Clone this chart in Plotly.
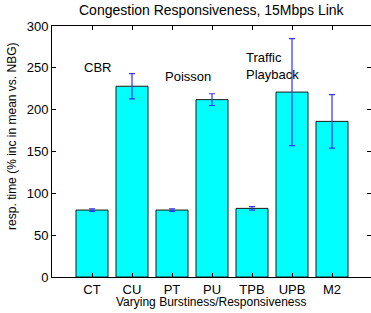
import plotly.graph_objects as go

categories = ["CT", "CU", "PT", "PU", "TPB", "UPB", "M2"]
means = [80, 228, 80, 212, 82, 221, 186]
errors = [1.5, 15, 1.5, 7, 2, 64, 32]
y_ticks = [0, 50, 100, 150, 200, 250, 300]
labels = ["CBR", "Poisson", "Traffic<br>Playback"]
label_x = [0.76, 2.78, 4.8]
label_y = [250, 240, 252]

xpos = list(range(1, len(categories) + 1))
font = "Liberation Sans, Arial, sans-serif"

fig = go.Figure()
fig.add_trace(go.Bar(
    x=xpos, y=means, width=0.8,
    marker=dict(color="#00FFFF", line=dict(color="#1a1a1a", width=1)),
    error_y=dict(type="data", array=errors, visible=True, color="#3333FF",
                 thickness=1.2, width=3),
))
for t, x, y in zip(labels, label_x, label_y):
    fig.add_annotation(x=x, y=y, text=t, showarrow=False, xanchor="left",
                       align="left", font=dict(size=13, color="black", family=font))

# axis titles and chart title as paper annotations
fig.add_annotation(xref="paper", yref="paper", x=0.5, y=-0.1, yanchor="middle",
                   text="Varying Burstiness/Responsiveness", showarrow=False,
                   font=dict(size=12, family=font, color="black"))
fig.add_annotation(xref="paper", yref="paper", x=-0.124, y=0.56, xanchor="center",
                   yanchor="middle", textangle=-90,
                   text="resp. time (% inc in mean vs. NBG)", showarrow=False,
                   font=dict(size=12, family=font, color="black"))
fig.add_annotation(xref="paper", yref="paper", x=0.5, y=1.065, yanchor="middle",
                   text="Congestion Responsiveness, 15Mbps Link", showarrow=False,
                   font=dict(size=14, family=font, color="black"))

fig.update_layout(
    width=371, height=313,
    margin=dict(l=52, r=0, t=26, b=36, autoexpand=False),
    paper_bgcolor="white", plot_bgcolor="white",
    showlegend=False,
    font=dict(family=font, size=12, color="black"),
)
fig.update_xaxes(range=[0, 7.975], tickvals=xpos, ticktext=categories,
                 ticks="inside", ticklen=4, tickcolor="black",
                 showline=True, linecolor="black", linewidth=1, mirror="ticks",
                 showgrid=False, zeroline=False, automargin=False,
                 tickfont=dict(size=13))
fig.update_yaxes(range=[0, 300], tickvals=y_ticks,
                 ticks="inside", ticklen=4, tickcolor="black",
                 showline=True, linecolor="black", linewidth=1, mirror="ticks",
                 showgrid=False, zeroline=False, automargin=False,
                 tickfont=dict(size=13))

fig.write_html("out.html", config={"displayModeBar": False},
               post_script="document.body.style.margin='0';document.body.style.overflow='hidden';")
